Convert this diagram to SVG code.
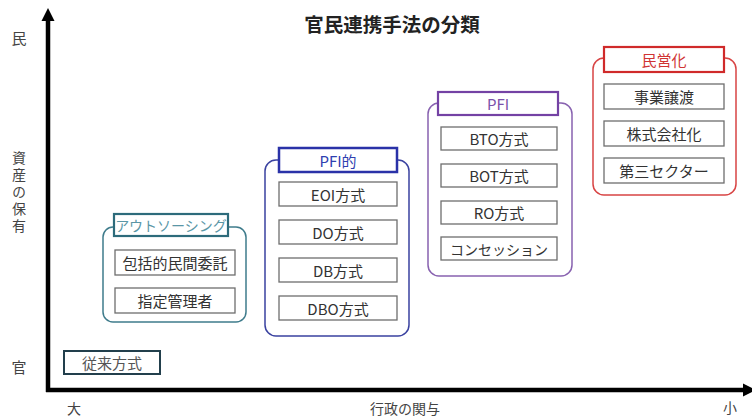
<svg xmlns="http://www.w3.org/2000/svg" width="752" height="419" viewBox="0 0 752 419">
<style>
text{font-family:"Noto Sans CJK JP","Noto Sans",sans-serif;text-anchor:middle;dominant-baseline:central}
.lbl{font-size:15px;fill:#444}
.item rect{fill:#fff;stroke:#6e6e6e;stroke-width:1.3}
.item text{font-size:15px;fill:#333}
.outer{fill:none;stroke-width:1.5}
.head{fill:#fff;stroke-width:2.2}
</style>
<rect width="752" height="419" fill="#fff"/>
<text x="392" y="23" style="font-size:19.5px;font-weight:bold;fill:#222">官民連携手法の分類</text>
<g id="axes">
<line x1="48" y1="18" x2="48" y2="392" stroke="#000" stroke-width="4.5"/>
<polygon points="48,8 41.5,21 54.5,21" fill="#000"/>
<line x1="46" y1="390" x2="745" y2="390" stroke="#000" stroke-width="4.5"/>
<polygon points="756,390 743,383.5 743,396.5" fill="#000"/>
</g>
<g id="axis-labels">
<text class="lbl" x="19" y="37">民</text>
<text x="19" y="151" style="writing-mode:vertical-rl;text-anchor:start;dominant-baseline:auto;font-size:14px;letter-spacing:3px;fill:#444">資産の保有</text>
<text class="lbl" x="19" y="366">官</text>
<text class="lbl" x="74" y="408" style="font-size:14px">大</text>
<text class="lbl" x="405" y="408" style="font-size:14px">行政の関与</text>
<text class="lbl" x="730" y="407" style="font-size:14px">小</text>
</g>
<g id="conventional" class="item">
<rect x="64" y="351" width="96" height="23" style="stroke:#223f4c;stroke-width:2"/>
<text x="112" y="362.5" style="fill:#555">従来方式</text>
</g>
<g id="outsourcing">
<rect class="outer" x="103" y="227" width="143" height="95" rx="10" stroke="#3f7c8c"/>
<rect class="head" x="114" y="214" width="114" height="22" stroke="#2d6b7b"/>
<text x="171" y="225" style="font-size:14px;fill:#5a96a6">アウトソーシング</text>
<g class="item"><rect x="115" y="250" width="120" height="25"/><text x="175" y="262.5">包括的民間委託</text></g>
<g class="item"><rect x="115" y="288" width="120" height="25"/><text x="175" y="300.5">指定管理者</text></g>
</g>
<g id="pfi-like">
<rect class="outer" x="265" y="160" width="144" height="176" rx="11" stroke="#3a42a0"/>
<rect class="head" x="279" y="148" width="118" height="24" stroke="#2a32a8" style="stroke-width:2.5"/>
<text x="338" y="160" style="font-size:15px;fill:#2f3fb0">PFI的</text>
<g class="item"><rect x="279" y="182" width="118" height="24"/><text x="338" y="194">EOI方式</text></g>
<g class="item"><rect x="279" y="220" width="118" height="24"/><text x="338" y="232">DO方式</text></g>
<g class="item"><rect x="279" y="258" width="118" height="24"/><text x="338" y="270">DB方式</text></g>
<g class="item"><rect x="279" y="296" width="118" height="24"/><text x="338" y="308">DBO方式</text></g>
</g>
<g id="pfi">
<rect class="outer" x="428" y="103" width="144" height="173" rx="11" stroke="#8862b0"/>
<rect class="head" x="438" y="92" width="120" height="23" stroke="#7442a4"/>
<text x="498" y="103.5" style="font-size:15px;fill:#7a52aa">PFI</text>
<g class="item"><rect x="441" y="127" width="116" height="23"/><text x="499" y="138.5">BTO方式</text></g>
<g class="item"><rect x="441" y="164" width="116" height="23"/><text x="499" y="175.5">BOT方式</text></g>
<g class="item"><rect x="441" y="201" width="116" height="23"/><text x="499" y="212.5">RO方式</text></g>
<g class="item"><rect x="441" y="237" width="116" height="23"/><text x="499" y="248.5" style="font-size:14px">コンセッション</text></g>
</g>
<g id="privatization">
<rect class="outer" x="593" y="58" width="143" height="137" rx="11" stroke="#d84444"/>
<rect class="head" x="604" y="47" width="120" height="25" stroke="#d02a2a"/>
<text x="664" y="59.5" style="font-size:15px;fill:#d03434">民営化</text>
<g class="item"><rect x="604" y="84" width="120" height="25"/><text x="664" y="96.5">事業譲渡</text></g>
<g class="item"><rect x="604" y="121" width="120" height="25"/><text x="664" y="133.5">株式会社化</text></g>
<g class="item"><rect x="604" y="158" width="120" height="25"/><text x="664" y="170.5">第三セクター</text></g>
</g>
</svg>
